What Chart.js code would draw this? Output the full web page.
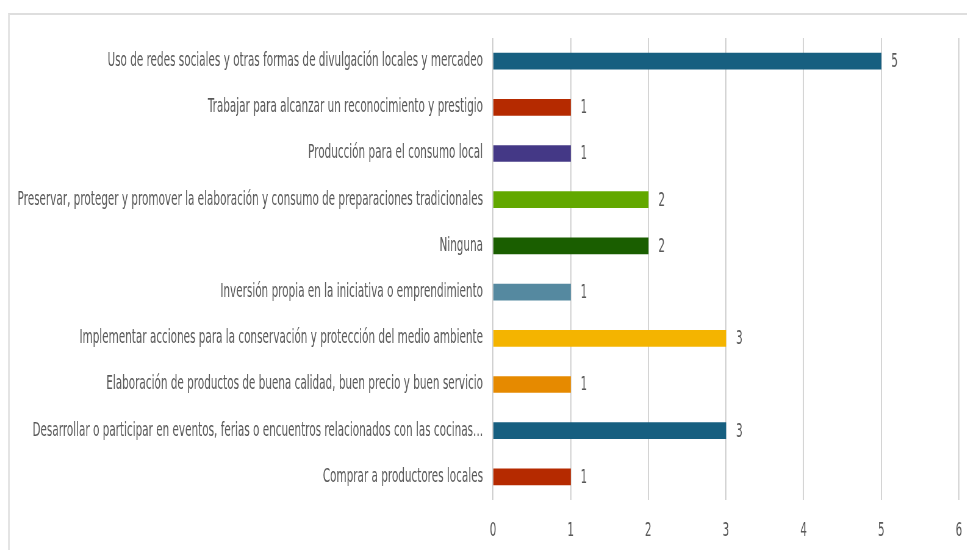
<!DOCTYPE html>
<html>
<head>
<meta charset="utf-8">
<script src="https://cdn.jsdelivr.net/npm/chart.js@4.4.1/dist/chart.umd.min.js"></script>
<style>
  html, body { margin: 0; padding: 0; background: #fff; }
  body { width: 967px; height: 550px; overflow: hidden; position: relative; }
  #frame {
    position: absolute; left: 8px; top: 13px; right: -4px; bottom: -4px;
    border-top: 2px solid #dedede; border-left: 2px solid #e4e4e4;
  }
  #wrap { position: absolute; left: 0; top: 0; transform-origin: 0 0; }
</style>
</head>
<body>
<div id="frame"></div>
<div id="wrap"><canvas id="grafica"></canvas></div>
<script>
const categorias = [
  'Uso de redes sociales y otras formas de divulgación locales y mercadeo',
  'Trabajar para alcanzar un reconocimiento y prestigio',
  'Producción para el consumo local',
  'Preservar, proteger y promover la elaboración y consumo de preparaciones tradicionales',
  'Ninguna',
  'Inversión propia en la iniciativa o emprendimiento',
  'Implementar acciones para la conservación y protección del medio ambiente',
  'Elaboración de productos de buena calidad, buen precio y buen servicio',
  'Desarrollar o participar en eventos, ferias o encuentros relacionados con las cocinas...',
  'Comprar a productores locales'
];
const valores = [5, 1, 1, 2, 2, 1, 3, 1, 3, 1];
const colores = ['#175f80', '#b52a00', '#443886', '#62a800', '#1a5e00',
                 '#5589a0', '#f4b400', '#e68a00', '#175f80', '#b52a00'];
const ticksX = [0, 1, 2, 3, 4, 5, 6];

// la imagen original viene comprimida a lo ancho
const escala = 0.61;
const ancho = Math.round(967 / escala);
const canvas = document.getElementById('grafica');
canvas.width = ancho;
canvas.height = 550;
canvas.style.width = ancho + 'px';
canvas.style.height = '550px';
document.getElementById('wrap').style.transform = 'scaleX(' + escala + ')';

const fuente = "'DejaVu Sans Condensed', 'Liberation Sans Narrow', sans-serif";
const gris = '#595959';

const etiquetasValor = {
  id: 'etiquetasValor',
  afterDatasetsDraw(chart) {
    const ctx = chart.ctx;
    const meta = chart.getDatasetMeta(0);
    ctx.save();
    ctx.font = '19px ' + fuente;
    ctx.fillStyle = gris;
    ctx.textAlign = 'left';
    ctx.textBaseline = 'middle';
    meta.data.forEach((bar, i) => {
      ctx.fillText(String(valores[i]), bar.x + 10 / escala, bar.y + 1);
    });
    ctx.restore();
  }
};

new Chart(canvas, {
  type: 'bar',
  data: {
    labels: categorias,
    datasets: [{
      data: valores,
      backgroundColor: colores,
      barThickness: 16
    }]
  },
  options: {
    indexAxis: 'y',
    responsive: false,
    animation: false,
    devicePixelRatio: 1,
    layout: { padding: { top: 38, right: 8 / escala, bottom: 0, left: 0 } },
    plugins: { legend: { display: false }, tooltip: { enabled: false } },
    scales: {
      x: {
        min: 0,
        max: 6,
        afterBuildTicks: (scale) => { scale.ticks = ticksX.map(v => ({ value: v })); },
        afterFit: (scale) => {
          scale.height = 50;
          scale.paddingLeft = 0;
          scale.paddingRight = 0;
        },
        grid: { color: '#cbcbcb', lineWidth: 1.7, drawTicks: false },
        border: { display: false },
        ticks: { color: gris, font: { family: fuente, size: 19 }, padding: 20 }
      },
      y: {
        grid: { display: false, drawTicks: false },
        border: { display: false },
        afterFit: (scale) => { scale.width = 493 / escala; },
        ticks: { color: gris, font: { family: fuente, size: 19 }, padding: 10 / escala, autoSkip: false }
      }
    }
  },
  plugins: [etiquetasValor]
});
</script>
</body>
</html>
